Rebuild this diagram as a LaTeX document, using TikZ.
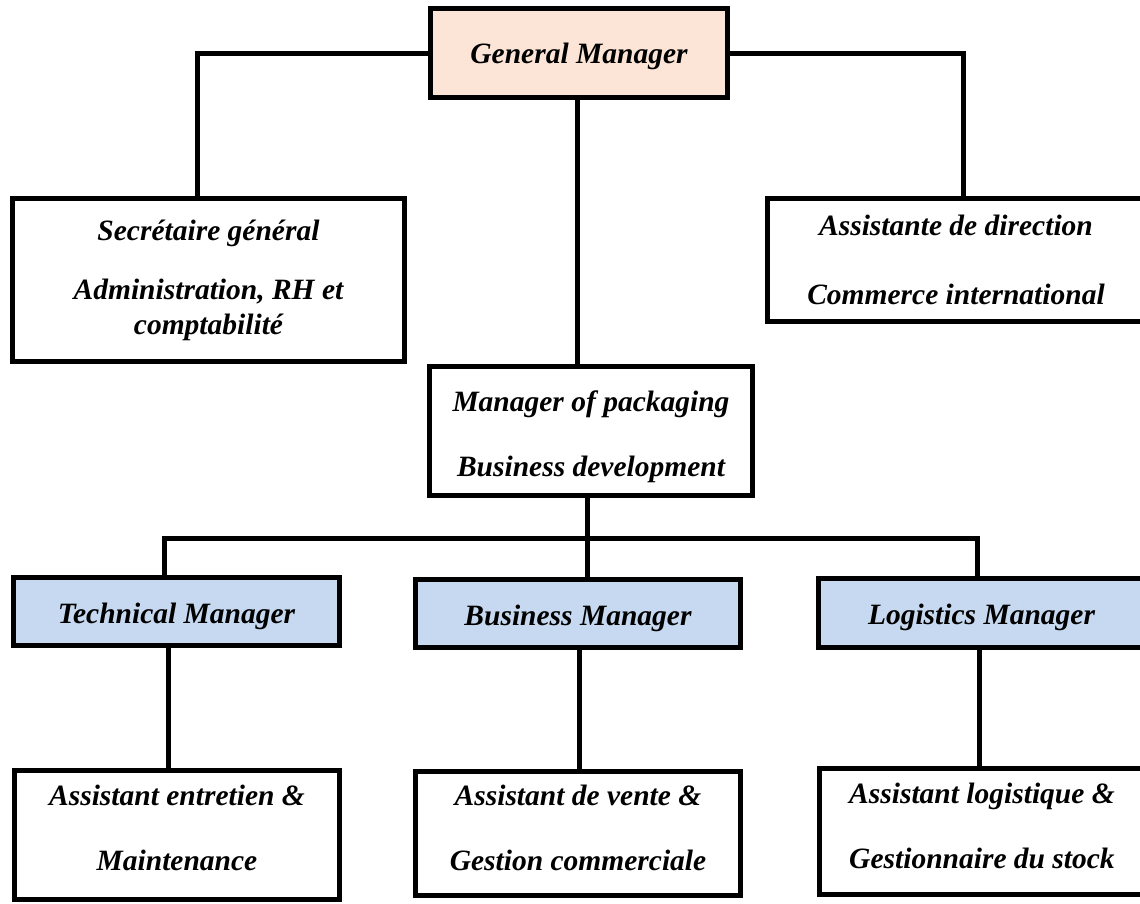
\documentclass[tikz,border=0pt]{standalone}
\usepackage{fontspec}
\setmainfont{Liberation Serif}
\definecolor{peach}{HTML}{FCE5D7}
\definecolor{paleblue}{HTML}{C6D9F0}
% struts that move a label inside its box
\newcommand{\lifttop}[1]{\rule{0pt}{#1}}
\newcommand{\sinkbot}[1]{\rule[-#1]{0pt}{0pt}}
\begin{document}
\begin{tikzpicture}[x=1pt,y=-1pt,
  box/.style={draw=black, line width=5pt, fill=white, align=center, inner sep=0pt,
    font=\fontsize{29.5}{35}\selectfont\bfseries\itshape},
  link/.style={draw=black, line width=5pt}]
\useasboundingbox (0,0) rectangle (1140,903);
\clip (0,0) rectangle (1140,903);

% boxes
\node[box, fill=peach, minimum width=297pt, minimum height=89pt] (gm) at (579,53)
  {\lifttop{28pt}General Manager};
\node[box, minimum width=392pt, minimum height=163pt] (sec) at (208.5,280)
  {Secrétaire général\\[24pt]Administration, RH et\\comptabilité};
\node[box, minimum width=377pt, minimum height=123pt] (asd) at (956,260)
  {Assistante de direction\\[34pt]Commerce international};
\node[box, minimum width=323pt, minimum height=129pt] (mgr) at (591,431)
  {\lifttop{32pt}Manager of packaging\\[30pt]Business development};
\node[box, fill=paleblue, minimum width=326pt, minimum height=68pt] (tech) at (176.5,611.5)
  {\lifttop{30pt}Technical Manager};
\node[box, fill=paleblue, minimum width=325pt, minimum height=68pt] (bus) at (578,613.5)
  {\lifttop{30pt}Business Manager};
\node[box, fill=paleblue, minimum width=326pt, minimum height=69pt] (log) at (981.5,613)
  {\lifttop{30pt}Logistics Manager};
\node[box, minimum width=325pt, minimum height=129pt] (atech) at (177,835)
  {Assistant entretien \&\\[30pt]Maintenance\sinkbot{14pt}};
\node[box, minimum width=325pt, minimum height=124pt] (abus) at (578,833.5)
  {Assistant de vente \&\\[30pt]Gestion commerciale\sinkbot{12pt}};
\node[box, minimum width=326pt, minimum height=126pt] (alog) at (982,831.5)
  {Assistant logistique \&\\[30pt]Gestionnaire du stock\sinkbot{12pt}};

% vertical positions of the connectors
\coordinate (xs) at (197,0);
\coordinate (xa) at (963,0);
\coordinate (xm) at (577,0);
\coordinate (xt) at (164,0);
\coordinate (xl) at (977,0);
\coordinate (xt2) at (168,0);
\coordinate (xb2) at (579,0);
\coordinate (xl2) at (979,0);
\coordinate (hub) at (587,538);

% connectors
\draw[link] (gm.west) -| (sec.north -| xs);
\draw[link] (gm.east) -| (asd.north -| xa);
\draw[link] (gm.south -| xm) -- (mgr.north -| xm);
\draw[link] (mgr.south -| hub) -- (hub);
\draw[link] (tech.north -| xt) -- (xt |- hub) -- (xl |- hub) -- (log.north -| xl);
\draw[link] (hub) -- (bus.north -| hub);
\draw[link] (tech.south -| xt2) -- (atech.north -| xt2);
\draw[link] (bus.south -| xb2) -- (abus.north -| xb2);
\draw[link] (log.south -| xl2) -- (alog.north -| xl2);
\end{tikzpicture}
\end{document}
